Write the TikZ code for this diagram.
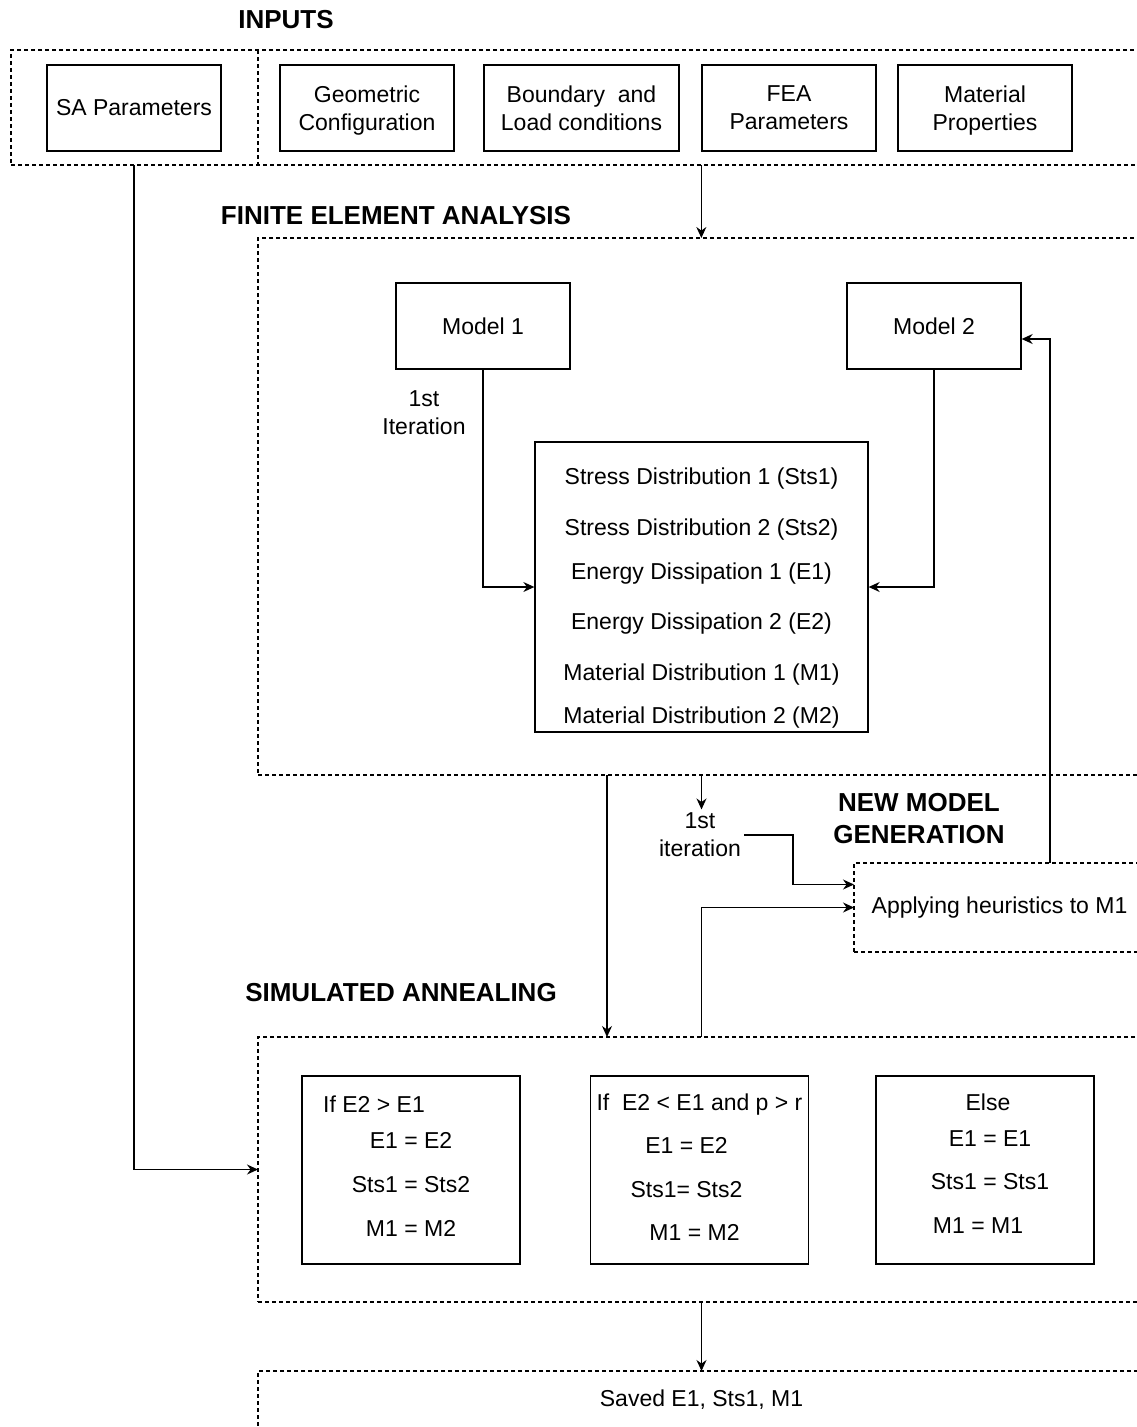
\documentclass[tikz,border=0pt]{standalone}
\usepackage{fontspec}
\setmainfont{Liberation Sans}
\usepackage{tikz}
\usetikzlibrary{arrows.meta, positioning, calc}

\tikzset{
    solidbox/.style={draw, line width=1.3pt, minimum width=174pt, minimum height=86pt,
                     inner xsep=4pt, align=center, font=\fontsize{23}{28}\selectfont},
    dashgroup/.style={draw, line width=1.1pt, dash pattern=on 4pt off 3pt, outer sep=0pt,
                      font=\fontsize{23}{28}\selectfont},
    heading/.style={font=\fontsize{26}{32}\selectfont\bfseries, align=center},
    lbl/.style={font=\fontsize{23}{28}\selectfont, align=center},
    arr/.style={line width=1.3pt, -{Stealth[length=11pt, width=10pt]}}
}

\begin{document}
\begin{tikzpicture}[x=1pt, y=-1pt]
    \useasboundingbox (0,0) rectangle (1137,1427);

    \node[heading] (intitle) at (286,20) {INPUTS};
    \node[dashgroup, anchor=north west, minimum width=1134pt, minimum height=115pt] (inbox) at (11,50) {};
    \draw[dashgroup] ($(inbox.north west)+(247,0)$) -- ($(inbox.south west)+(247,0)$);

    \node[solidbox] (sa) at (134,108) {SA Parameters};
    \node[solidbox, text depth=0pt] (geo) at (367,108) {Geometric\\Configuration};
    \node[solidbox, text depth=0pt, minimum width=195pt] (bnd) at (581.5,108) {Boundary\ \ and\\Load conditions};
    \node[solidbox, text depth=0pt] (fea) at (789,108) {FEA\\Parameters};
    \node[solidbox, text depth=0pt] (mat) at (985,108) {Material\\Properties};

    \node[heading] (featitle) at (396,216) {FINITE ELEMENT ANALYSIS};
    \node[dashgroup, anchor=north west, minimum width=887pt, minimum height=537pt] (feagrp) at (258,238) {};

    \node[solidbox] (m1) at (483,326) {Model 1};
    \node[solidbox] (m2) at (934,326) {Model 2};
    \node[lbl] (it1) at (424,413) {1st\\Iteration};
    \node[solidbox, minimum width=333pt, minimum height=290pt] (dist) at (701.5,587) {
        \mbox{}\\[10pt]
        Stress Distribution 1 (Sts1)\\[23pt]
        Stress Distribution 2 (Sts2)\\[16pt]
        Energy Dissipation 1 (E1)\\[22pt]
        Energy Dissipation 2 (E2)\\[23pt]
        Material Distribution 1 (M1)\\[15pt]
        Material Distribution 2 (M2)
    };

    \node[lbl] (it2) at (700,835) {1st\\iteration};
    \node[heading] (nmtitle) at (919,819) {NEW MODEL\\GENERATION};
    \node[dashgroup, anchor=west, minimum width=291pt, minimum height=89pt] (heur) at (854,907.5) {Applying heuristics to M1};

    \node[heading] (satitle) at (401,993) {SIMULATED ANNEALING};
    \node[dashgroup, anchor=north west, minimum width=887pt, minimum height=265pt] (sagrp) at (258,1037) {};
    \node[solidbox, minimum width=218pt, minimum height=188pt] (c1) at (411,1170) {
        \hspace*{-74pt}If E2 > E1\\[8pt] E1 = E2\\[16pt] Sts1 = Sts2\\[16pt] M1 = M2\\[-20pt]\mbox{}};
    \node[solidbox, minimum width=218pt, minimum height=188pt] (c2) at (699.5,1170) {
        If\ \ E2 < E1 and p > r\\[15pt] \hspace*{-26pt}E1 = E2\\[16pt] \hspace*{-26pt}Sts1= Sts2\\[15pt]
        \hspace*{-10pt}M1 = M2\\[-22pt]\mbox{}};
    \node[solidbox, minimum width=218pt, minimum height=188pt] (c3) at (985,1170) {
        \hspace*{6pt}Else\\[8pt] \hspace*{10pt}E1 = E1\\[15pt] \hspace*{10pt}Sts1 = Sts1\\[16pt]
        \hspace*{-14pt}M1 = M1\\[-16pt]\mbox{}};

    \node[dashgroup, anchor=north west, minimum width=887pt, minimum height=58pt] (savegrp) at (258,1371) {Saved E1, Sts1, M1};

    \draw[arr] (fea.south west |- inbox.south) -- (fea.south west |- feagrp.north);
    \draw[arr] (m1.south) |- (dist.west);
    \draw[arr] (m2.south) |- (dist.east);
    \draw[arr] (dist.south |- feagrp.south) -- (dist.south |- it2.north);
    \draw[arr] (it2.east) -| ($(heur.west)+(-61,-23)$) -- ($(heur.west)+(0,-23)$);
    \draw[arr] ($(heur.north west)+(196,0)$) |- ($(m2.east)+(0,13)$);
    \draw[arr] ($(feagrp.south west)+(349,0)$) -- ($(sagrp.north west)+(349,0)$);
    \draw[arr] (dist.south |- sagrp.north) |- (heur.west);
    \draw[arr] (sa.south |- inbox.south) |- (sagrp.west);
    \draw[arr] (dist.south |- sagrp.south) -- (dist.south |- savegrp.north);
\end{tikzpicture}
\end{document}
